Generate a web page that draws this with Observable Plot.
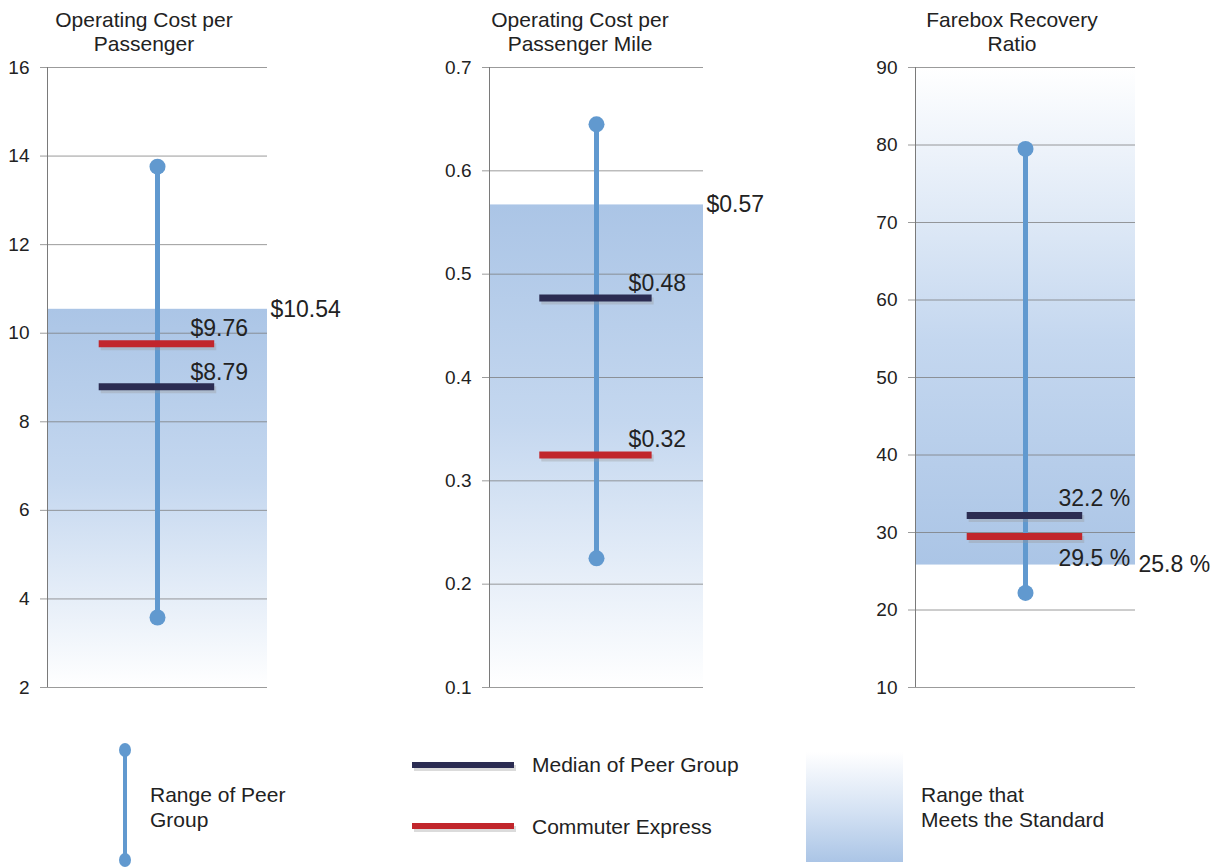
<!DOCTYPE html>
<html><head><meta charset="utf-8">
<script src="https://cdn.jsdelivr.net/npm/d3@7"></script>
<script src="https://cdn.jsdelivr.net/npm/@observablehq/plot@0.6"></script>
<style>
body{margin:0;background:#fff;font-family:"Liberation Sans",Arial,sans-serif;}
#wrap{position:relative;width:1220px;height:867px;overflow:hidden;}
.panel{position:absolute;top:0;}
.title{position:absolute;top:8px;width:320px;text-align:center;font-size:21px;line-height:24px;color:#222;}
#legend{position:absolute;left:0;top:700px;}
</style></head><body><div id="wrap"></div>
<script>
// ---- data ----
const metricTitles = [["Operating Cost per","Passenger"],["Operating Cost per","Passenger Mile"],["Farebox Recovery","Ratio"]];
const peerMin = [3.58, 0.225, 22.2];
const peerMax = [13.76, 0.645, 79.5];
const peerMedian = [8.79, 0.477, 32.2];
const commuterExpress = [9.76, 0.325, 29.5];
const standard = [10.54, 0.567, 25.8];
const standardSide = ["below", "below", "above"];
const medianLabels = ["$8.79", "$0.48", "32.2 %"];
const ceLabels = ["$9.76", "$0.32", "29.5 %"];
const standardLabels = ["$10.54", "$0.57", "25.8 %"];
const yDomains = [[2, 16], [0.1, 0.7], [10, 90]];
const yTicks = [[2,4,6,8,10,12,14,16],[0.1,0.2,0.3,0.4,0.5,0.6,0.7],[10,20,30,40,50,60,70,80,90]];
const yTickLabels = [["2","4","6","8","10","12","14","16"],["0.1","0.2","0.3","0.4","0.5","0.6","0.7"],["10","20","30","40","50","60","70","80","90"]];
const legendLabels = {range:["Range of Peer","Group"], median:"Median of Peer Group", ce:"Commuter Express", std:["Range that","Meets the Standard"]};

// ---- layout / style ----
const RANGE_C = "#6199cf", MED_C = "#2b2c52", CE_C = "#c1262c", SHADE_C = "#abc5e6";
const layout = [
  {left:0,   ml:47, mr:93, titleX:144, ceDy:-15, medDy:-14},
  {left:420, ml:69, mr:77, titleX:580, ceDy:-15, medDy:-14},
  {left:860, ml:55, mr:85, titleX:1012, ceDy:22, medDy:-17}
];
const wrap = document.getElementById("wrap");
const font = '"Liberation Sans", Arial, sans-serif';

layout.forEach((L, i) => {
  const gid = "shade" + i;
  const below = standardSide[i] === "below";
  const shade = [{y1: below ? yDomains[i][0] : standard[i], y2: below ? standard[i] : yDomains[i][1]}];
  const plot = Plot.plot({
    width: 360, height: 700,
    marginTop: 67, marginBottom: 13, marginLeft: L.ml, marginRight: L.mr,
    x: {domain: [0, 1], axis: null},
    y: {domain: yDomains[i], axis: null},
    style: {fontFamily: font, color: "#222", background: "transparent", overflow: "visible"},
    marks: [
      Plot.rect(shade, {x1: 0, x2: 1, y1: "y1", y2: "y2", fill: `url(#${gid})`}),
      Plot.gridY(yTicks[i], {stroke: "#7a7a7a", strokeOpacity: 0.75}),
      Plot.axisY(yTicks[i], {tickSize: 7, tickPadding: 11, fontSize: 19, stroke: "#7a7a7a", strokeOpacity: 0.75,
        tickFormat: (d, k) => yTickLabels[i][k]}),
      Plot.ruleX([0], {stroke: "#7a7a7a"}),
      Plot.ruleX([i], {x: () => 0.5, y1: () => peerMin[i], y2: () => peerMax[i], stroke: RANGE_C, strokeWidth: 5}),
      Plot.dot([peerMin[i], peerMax[i]], {x: () => 0.5, y: d => d, r: 8, fill: RANGE_C}),
      Plot.ruleY([peerMedian[i]], {x1: 0.235, x2: 0.76, stroke: "#999", strokeOpacity: 0.35, strokeWidth: 7, dx: 2, dy: 3}),
      Plot.ruleY([commuterExpress[i]], {x1: 0.235, x2: 0.76, stroke: "#999", strokeOpacity: 0.35, strokeWidth: 7, dx: 2, dy: 3}),
      Plot.ruleY([peerMedian[i]], {x1: 0.235, x2: 0.76, stroke: MED_C, strokeWidth: 7}),
      Plot.ruleY([commuterExpress[i]], {x1: 0.235, x2: 0.76, stroke: CE_C, strokeWidth: 7}),
      Plot.text([medianLabels[i]], {x: () => 0.65, y: () => peerMedian[i], text: d => d, textAnchor: "start", dy: L.medDy, fontSize: 23, fill: "#222"}),
      Plot.text([ceLabels[i]], {x: () => 0.65, y: () => commuterExpress[i], text: d => d, textAnchor: "start", dy: L.ceDy, fontSize: 23, fill: "#222"}),
      Plot.text([standardLabels[i]], {frameAnchor: "right", y: () => standard[i], text: d => d, textAnchor: "start", dx: 3, fontSize: 23, fill: "#222"})
    ]
  });
  const svg = d3.select(plot);
  const defs = svg.insert("defs", ":first-child");
  const g = defs.append("linearGradient").attr("id", gid)
    .attr("x1", 0).attr("x2", 0).attr("y1", below ? 0 : 1).attr("y2", below ? 1 : 0);
  g.append("stop").attr("offset", "0%").attr("stop-color", SHADE_C);
  g.append("stop").attr("offset", "45%").attr("stop-color", "#c4d7ef");
  g.append("stop").attr("offset", "100%").attr("stop-color", "#ffffff");
  plot.classList.add("panel");
  plot.style.left = L.left + "px";
  wrap.appendChild(plot);
  const t = document.createElement("div");
  t.className = "title";
  t.style.left = (L.titleX - 160) + "px";
  t.innerHTML = metricTitles[i].join("<br>");
  wrap.appendChild(t);
});

// ---- legend ----
const lg = d3.create("svg").attr("id", "legend").attr("width", 1220).attr("height", 167)
  .style("font-family", font).style("font-size", "21px").attr("fill", "#222");
const ldefs = lg.append("defs").append("linearGradient").attr("id", "lgGrad").attr("x1",0).attr("x2",0).attr("y1",0).attr("y2",1);
ldefs.append("stop").attr("offset","0%").attr("stop-color","#ffffff");
ldefs.append("stop").attr("offset","55%").attr("stop-color","#d3e1f3");
ldefs.append("stop").attr("offset","100%").attr("stop-color",SHADE_C);
lg.append("line").attr("x1",125).attr("x2",125).attr("y1",50).attr("y2",160).attr("stroke",RANGE_C).attr("stroke-width",4);
lg.append("ellipse").attr("cx",125).attr("cy",50).attr("rx",6).attr("ry",7).attr("fill",RANGE_C);
lg.append("ellipse").attr("cx",125).attr("cy",160).attr("rx",6).attr("ry",7).attr("fill",RANGE_C);
lg.append("text").attr("x",150).attr("y",95).attr("dy","0.35em").text(legendLabels.range[0]);
lg.append("text").attr("x",150).attr("y",120).attr("dy","0.35em").text(legendLabels.range[1]);
lg.append("line").attr("x1",414).attr("x2",516).attr("y1",68).attr("y2",68).attr("stroke","#999").attr("stroke-opacity",0.35).attr("stroke-width",6);
lg.append("line").attr("x1",412).attr("x2",514).attr("y1",65).attr("y2",65).attr("stroke",MED_C).attr("stroke-width",6);
lg.append("text").attr("x",532).attr("y",65).attr("dy","0.35em").text(legendLabels.median);
lg.append("line").attr("x1",414).attr("x2",516).attr("y1",129).attr("y2",129).attr("stroke","#999").attr("stroke-opacity",0.35).attr("stroke-width",6);
lg.append("line").attr("x1",412).attr("x2",514).attr("y1",126).attr("y2",126).attr("stroke",CE_C).attr("stroke-width",6);
lg.append("text").attr("x",532).attr("y",127).attr("dy","0.35em").text(legendLabels.ce);
lg.append("rect").attr("x",806).attr("y",52).attr("width",97).attr("height",110).attr("fill","url(#lgGrad)");
lg.append("text").attr("x",921).attr("y",95).attr("dy","0.35em").text(legendLabels.std[0]);
lg.append("text").attr("x",921).attr("y",120).attr("dy","0.35em").text(legendLabels.std[1]);
wrap.appendChild(lg.node());
</script>
</body></html>
